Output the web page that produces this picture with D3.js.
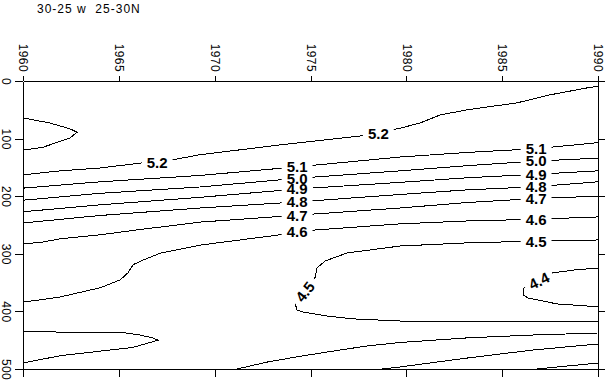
<!DOCTYPE html>
<html>
<head>
<meta charset="utf-8">
<script src="https://cdn.jsdelivr.net/npm/d3@7"></script>
<style>
  html, body { margin: 0; padding: 0; background: #fff; }
  svg { display: block; }
  text { font-family: "Liberation Sans", Arial, sans-serif; fill: #000; }
  .title { white-space: pre; }
</style>
</head>
<body>
<div id="chart"></div>
<script>
const title = '30-25 w  25-30N';
const years = [1960, 1965, 1970, 1975, 1980, 1985, 1990];
const depths = [0, 100, 200, 300, 400, 500];

// contour lines, [year, depth]
const c53 = [[1960, 64], [1961.41, 73], [1962.45, 83], [1962.82, 89], [1962.45, 99], [1961.04, 115], [1960, 120]];
const c52 = [[1960, 163], [1961.93, 156], [1964.02, 151], [1966.26, 142], [1967.77, 137], [1969.23, 128], [1973.41, 111],
  [1977.74, 95], [1979.67, 82], [1980.71, 73], [1981.76, 59], [1983.17, 50], [1985.77, 38], [1987.5, 24], [1989.43, 12], [1990, 9]];
const c51 = [[1960, 186], [1964.02, 175], [1969.23, 164], [1974.3, 149], [1979.67, 132], [1983.17, 124], [1986.77, 117.5], [1990, 107]];
const c50 = [[1960, 207], [1964.02, 195], [1969.23, 184], [1974.3, 169], [1979.67, 156], [1983.17, 147], [1986.77, 139], [1990, 134]];
const c49 = [[1960, 227], [1964.02, 215], [1969.23, 202], [1974.3, 187.5], [1979.67, 176], [1983.17, 168], [1986.77, 162], [1990, 156]];
const c48 = [[1960, 246.5], [1964.02, 233.5], [1969.23, 220.5], [1974.3, 210], [1979.67, 197], [1983.17, 189], [1986.77, 183.5], [1990, 175]];
const c47 = [[1960, 283], [1961.04, 279.5], [1961.93, 274], [1964.02, 267], [1965.84, 259], [1969.23, 245], [1974.3, 233],
  [1979.67, 220.5], [1983.17, 211], [1986.77, 204], [1990, 200]];
const c46 = [[1960, 384], [1961.93, 375], [1964.02, 359], [1965.06, 345.5], [1965.48, 333], [1965.74, 319], [1966.26, 311],
  [1967.15, 299], [1969.23, 285], [1973.41, 267], [1974.3, 261], [1979.67, 248], [1983.17, 243], [1986.77, 240], [1990, 236]];
const c45 = [[1990, 276], [1986.77, 278], [1983.17, 281], [1979.67, 286.5], [1976.9, 298.6], [1975.76, 312.5], [1975.34, 324.7],
  [1975.23, 342], [1974.71, 365.8], [1974.19, 385.4], [1974.3, 397.6], [1974.61, 401], [1975.86, 408], [1977.22, 413],
  [1979.67, 416.7], [1983.17, 418.4], [1990, 418.4]];
const c44 = [[1990, 324.7], [1988.8, 328], [1987.65, 333], [1986.92, 347], [1986.35, 354], [1986.09, 361], [1986.09, 371.5],
  [1986.35, 376.7], [1987.86, 387], [1990, 392]];
const c45low = [[1960, 434], [1961.93, 436], [1965.06, 436], [1966.1, 441], [1966.78, 446], [1967.04, 450], [1965.74, 462.5],
  [1964.02, 469], [1961.93, 477], [1960, 489.6]];
const c46low = [[1971.17, 500], [1972.73, 488], [1974.45, 478], [1976.17, 469], [1977.95, 460], [1979.67, 454], [1983.17, 446],
  [1986.61, 441], [1990, 437.5]];
const c47low = [[1978.73, 500], [1979.67, 496.5], [1983.17, 481], [1986.61, 467], [1990, 456.6]];
const c48low = [[1986.82, 500], [1990, 489.6]];

const contours = [
  { level: 5.3, pts: c53 }, { level: 5.2, pts: c52 }, { level: 5.1, pts: c51 }, { level: 5.0, pts: c50 },
  { level: 4.9, pts: c49 }, { level: 4.8, pts: c48 }, { level: 4.7, pts: c47 }, { level: 4.6, pts: c46 },
  { level: 4.5, pts: c45 }, { level: 4.4, pts: c44 }, { level: 4.5, pts: c45low }, { level: 4.6, pts: c46low },
  { level: 4.7, pts: c47low }, { level: 4.8, pts: c48low }
];

// contour labels: [level, year, depth]
const labels = [
  [5.2, 1967.0, 142], [5.2, 1978.54, 91],
  [5.1, 1974.3, 149], [5.0, 1974.3, 169], [4.9, 1974.3, 187.5], [4.8, 1974.3, 210], [4.7, 1974.3, 233], [4.6, 1974.3, 261],
  [5.1, 1986.77, 117.5], [5.0, 1986.77, 139], [4.9, 1986.77, 162], [4.8, 1986.77, 183.5], [4.7, 1986.77, 204],
  [4.6, 1986.77, 240], [4.5, 1986.77, 278],
  [4.5, 1974.71, 365.8], [4.4, 1986.92, 347]
];

const W = 606, H = 381;
const margin = { top: 81, right: 8, bottom: 12, left: 23 };

const x = d3.scaleLinear().domain([1960, 1990]).range([margin.left, W - margin.right]);
const y = d3.scaleLinear().domain([0, 500]).range([margin.top, H - margin.bottom]);

const svg = d3.select('#chart').append('svg')
  .attr('width', W)
  .attr('height', H);

svg.append('text')
  .attr('class', 'title')
  .attr('x', 37)
  .attr('y', 13)
  .attr('font-size', 12)
  .attr('letter-spacing', 1)
  .text(title);

// axes
function styleAxis(g) {
  g.attr('font-family', null).attr('font-size', null);
  g.selectAll('path, line').attr('stroke', '#000').attr('shape-rendering', 'crispEdges');
  g.selectAll('text').attr('font-size', 12).attr('letter-spacing', 0.4);
}

const axTop = svg.append('g')
  .attr('transform', `translate(0,${margin.top})`)
  .call(d3.axisTop(x).tickValues(years).tickSize(5).tickSizeOuter(0).tickFormat(d3.format('d')))
  .call(styleAxis);
axTop.selectAll('.tick text')
  .attr('x', 0).attr('y', 0).attr('dy', null)
  .attr('text-anchor', 'end')
  .attr('transform', 'translate(-4.3,-9) rotate(90)');

const axBottom = svg.append('g')
  .attr('transform', `translate(0,${H - margin.bottom})`)
  .call(d3.axisBottom(x).tickValues(years).tickSize(8).tickSizeOuter(0).tickFormat(''))
  .call(styleAxis);

const axLeft = svg.append('g')
  .attr('transform', `translate(${margin.left},0)`)
  .call(d3.axisLeft(y).tickValues(depths).tickSize(8).tickSizeOuter(0))
  .call(styleAxis);
axLeft.selectAll('.tick text')
  .attr('x', 0).attr('y', 0).attr('dy', null)
  .attr('text-anchor', 'middle')
  .attr('transform', 'translate(-20.7,0) rotate(90)');

const axRight = svg.append('g')
  .attr('transform', `translate(${W - margin.right},0)`)
  .call(d3.axisRight(y).tickValues(depths).tickSize(7).tickSizeOuter(0).tickFormat(''))
  .call(styleAxis);

// contour lines
const line = d3.line().x(d => x(d[0])).y(d => y(d[1]));

svg.append('g')
  .selectAll('path')
  .data(contours)
  .join('path')
    .attr('d', d => line(d.pts))
    .attr('fill', 'none')
    .attr('stroke', '#000')
    .attr('stroke-width', 1)
    .attr('shape-rendering', 'crispEdges');

// label angle from the chord around the nearest vertex of a line with that level
function labelAngle(level, px, py) {
  let best = null, bestD = Infinity;
  contours.filter(c => c.level === level).forEach(c => {
    c.pts.forEach((p, i) => {
      const d = Math.hypot(x(p[0]) - px, y(p[1]) - py);
      if (d < bestD) { bestD = d; best = { pts: c.pts, i }; }
    });
  });
  if (!best) return 0;
  const a = best.pts[Math.max(0, best.i - 1)];
  const b = best.pts[Math.min(best.pts.length - 1, best.i + 1)];
  let ang = Math.atan2(y(b[1]) - y(a[1]), x(b[0]) - x(a[0])) * 180 / Math.PI;
  if (ang > 90) ang -= 180;
  if (ang <= -90) ang += 180;
  return Math.abs(ang) < 12 ? 0 : ang;
}

const fmt = d3.format('.1f');
const bgLayer = svg.append('g');
const textLayer = svg.append('g');

labels.forEach(([level, yr, dp]) => {
  const px = x(yr), py = y(dp);
  const ang = labelAngle(level, px, py);
  const tf = `translate(${px},${py}) rotate(${ang})`;
  const t = textLayer.append('text')
    .attr('transform', tf)
    .attr('text-anchor', 'middle')
    .attr('dy', '0.36em')
    .attr('font-size', 15)
    .attr('font-weight', 'bold')
    .text(fmt(level));
  const w = t.node().getComputedTextLength() + 10;
  bgLayer.append('rect')
    .attr('transform', tf)
    .attr('x', -w / 2)
    .attr('y', -6)
    .attr('width', w)
    .attr('height', 12)
    .attr('fill', '#fff');
});
</script>
</body>
</html>
